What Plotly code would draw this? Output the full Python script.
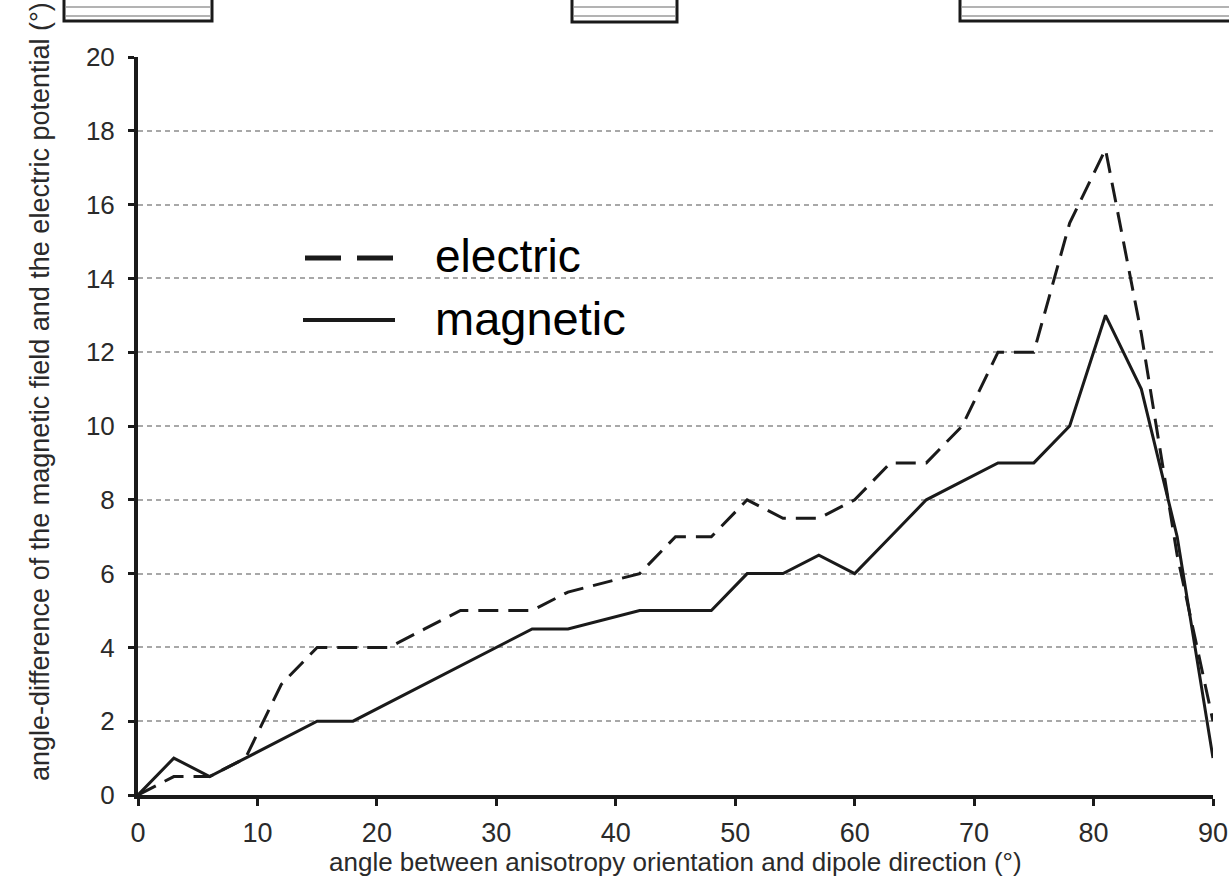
import plotly.graph_objects as go

angles = [0, 3, 6, 9, 12, 15, 18, 21, 24, 27, 30, 33, 36, 39, 42, 45,
          48, 51, 54, 57, 60, 63, 66, 69, 72, 75, 78, 81, 84, 87, 90]
electric = [0, 0.5, 0.5, 1.0, 3.0, 4.0, 4.0, 4.0, 4.5, 5.0, 5.0, 5.0, 5.5, 5.75, 6.0, 7.0,
            7.0, 8.0, 7.5, 7.5, 8.0, 9.0, 9.0, 10.0, 12.0, 12.0, 15.5, 17.5, 12.5, 6.5, 2.0]
magnetic = [0, 1.0, 0.5, 1.0, 1.5, 2.0, 2.0, 2.5, 3.0, 3.5, 4.0, 4.5, 4.5, 4.75, 5.0, 5.0,
            5.0, 6.0, 6.0, 6.5, 6.0, 7.0, 8.0, 8.5, 9.0, 9.0, 10.0, 13.0, 11.0, 7.0, 1.0]
x_ticks = [0, 10, 20, 30, 40, 50, 60, 70, 80, 90]
y_ticks = [0, 2, 4, 6, 8, 10, 12, 14, 16, 18, 20]
series_names = ["electric", "magnetic"]
x_title = "angle between anisotropy orientation and dipole direction (°)"
y_title = "angle-difference of the magnetic field and the electric potential (°)"

W, H = 1229, 882
L, R, T, B = 138, 16, 57, 87
PW, PH = W - L - R, H - T - B
INK = "#1a1a1a"
TXT = "#2a2a2a"
FONT = "Liberation Sans, Arial, sans-serif"


def px(xp):
    return (xp - L) / PW


def py(yp):
    return (H - B - yp) / PH


fig = go.Figure()
fig.add_trace(go.Scatter(x=angles, y=electric, mode="lines", name=series_names[0],
                         line=dict(color=INK, width=3, dash="20px,10px"), showlegend=False))
fig.add_trace(go.Scatter(x=angles, y=magnetic, mode="lines", name=series_names[1],
                         line=dict(color=INK, width=3), showlegend=False))

shapes = []
# custom legend samples
shapes.append(dict(type="line", xref="paper", yref="paper", x0=px(305), x1=px(395),
                   y0=py(258), y1=py(258), line=dict(color=INK, width=5, dash="36px,16px")))
shapes.append(dict(type="line", xref="paper", yref="paper", x0=px(303), x1=px(395),
                   y0=py(320), y1=py(320), line=dict(color=INK, width=4)))
# fragments of boxes from the figure above (cropped at the top)
for (a, b, bottom) in [(64, 212, 21), (572, 677, 22), (960, 1240, 21)]:
    shapes.append(dict(type="rect", xref="paper", yref="paper", x0=px(a), x1=px(b),
                       y0=py(bottom), y1=py(-10), line=dict(color=INK, width=3),
                       fillcolor="white"))
    for gy in (7, 16):
        shapes.append(dict(type="line", xref="paper", yref="paper", x0=px(a + 2), x1=px(b - 2),
                           y0=py(gy), y1=py(gy), line=dict(color="#9a9a9a", width=1.5)))

annotations = [
    dict(text=series_names[0], xref="paper", yref="paper", x=px(433), y=py(256),
         xanchor="left", yanchor="middle", showarrow=False,
         font=dict(family=FONT, size=46, color="#000")),
    dict(text=series_names[1], xref="paper", yref="paper", x=px(433), y=py(318),
         xanchor="left", yanchor="middle", showarrow=False,
         font=dict(family=FONT, size=47, color="#000")),
    dict(text=x_title, xref="paper", yref="paper", x=px(675), y=py(862),
         xanchor="center", yanchor="middle", showarrow=False,
         font=dict(family=FONT, size=26, color=TXT)),
    dict(text=y_title, xref="paper", yref="paper", x=px(40), y=py(392),
         xanchor="center", yanchor="middle", showarrow=False, textangle=-90,
         font=dict(family=FONT, size=27, color=TXT)),
]

fig.update_layout(
    width=W, height=H,
    margin=dict(l=L, r=R, t=T, b=B, autoexpand=False),
    paper_bgcolor="white", plot_bgcolor="white",
    font=dict(family=FONT, color=TXT),
    shapes=shapes, annotations=annotations,
    showlegend=False,
)
fig.update_xaxes(range=[0, 90], tickvals=x_ticks, showgrid=False, zeroline=False,
                 showline=True, linecolor=INK, linewidth=4, automargin=False,
                 ticks="outside", ticklen=7, tickwidth=3, tickcolor=INK,
                 tickfont=dict(size=27, color=TXT), ticklabelstandoff=4)
fig.update_yaxes(range=[0, 20], tickvals=y_ticks, showgrid=True, gridcolor="#a8a8a8",
                 gridwidth=1.5, griddash="5px,4px", zeroline=False,
                 showline=True, linecolor=INK, linewidth=4, automargin=False,
                 ticks="outside", ticklen=6, tickwidth=3, tickcolor=INK,
                 tickfont=dict(size=26, color=TXT), ticklabelstandoff=8)

fig.write_html("out.html")
